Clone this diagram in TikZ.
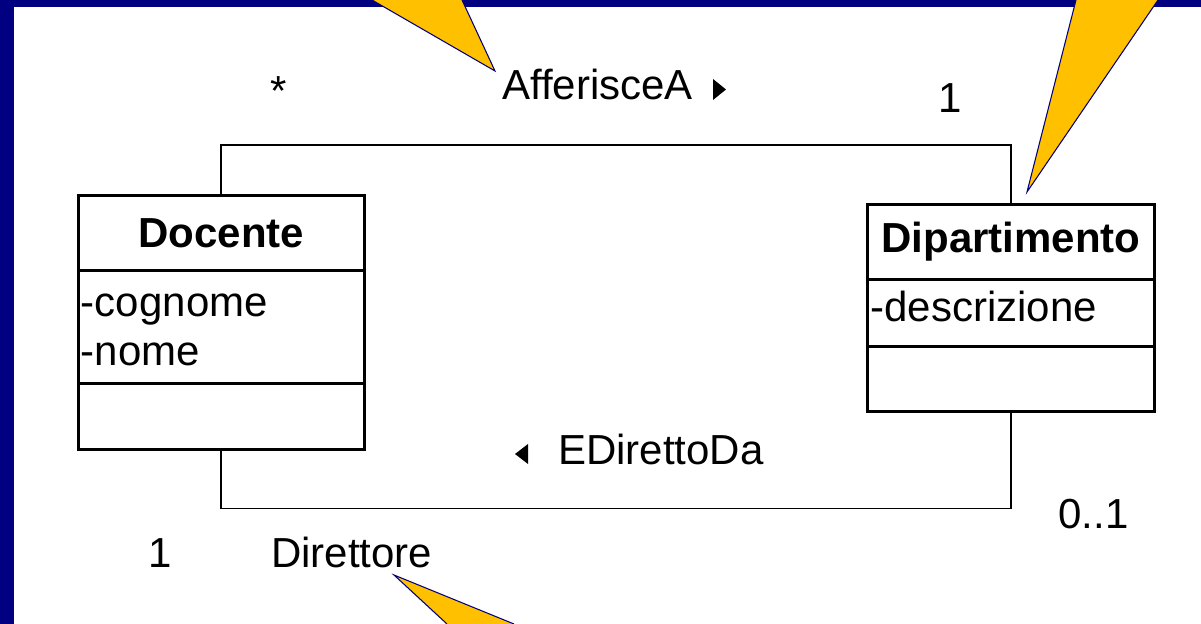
\documentclass[tikz,border=0pt]{standalone}
\usepackage{fontspec}
\setmainfont{Liberation Sans}
\usetikzlibrary{positioning}
\definecolor{slidenavy}{RGB}{0,0,128}
\definecolor{calloutyellow}{RGB}{255,192,0}
\tikzset{
  classbox/.style={draw, line width=1.7pt, outer sep=0pt, inner sep=0pt, minimum width=5.73cm},
  assoc/.style={line width=1.1pt},
  callout/.style={fill=calloutyellow, draw=slidenavy, line width=0.6pt},
  lbl/.style={inner sep=0pt, anchor=base west},
}
\begin{document}
\begin{tikzpicture}[x=0.02cm, y=-0.02cm, font=\fontsize{23.9}{28.5}\selectfont]
    \useasboundingbox (0,0) rectangle (1201,624);
    \fill[white] (0,0) rectangle (1201,624);
    \fill[slidenavy] (0,0) rectangle (1201,7.5);
    \fill[slidenavy] (0,0) rectangle (13.5,624);

    % Docente
    \node[classbox, minimum height=1.504cm] (docname) at (221.35,233.1) {\textbf{Docente}};
    \node[classbox, minimum height=2.266cm, below=0pt of docname] (docattr) {};
    \node[classbox, minimum height=1.304cm, below=0pt of docattr] (docops) {};
    \node[lbl] (cognome) at ([shift={(2.5,45.5)}]docattr.north west) {-cognome};
    \node[lbl] (nome) at ([shift={(2.5,95)}]docattr.north west) {-nome};

    % Dipartimento
    \node[classbox, minimum height=1.502cm] (dipname) at (1011,241.75) {\textbf{Dipartimento}};
    \node[classbox, minimum height=1.348cm, below=0pt of dipname] (dipattr) {};
    \node[classbox, minimum height=1.29cm, below=0pt of dipattr] (dipops) {};
    \node[lbl] (descrizione) at ([shift={(2.5,42.5)}]dipattr.north west) {-descrizione};

    \coordinate (topline) at (0,145);
    \coordinate (botline) at (0,508.5);
    \draw[assoc] (docname.north) -- (docname.north |- topline) -| (dipname.north);
    \draw[assoc] (docops.south) -- (docops.south |- botline) -| (dipops.south);

    \node[inner sep=0pt, anchor=base] (manydoc) at (279,106) {*};
    \node[lbl] (afferisce) at (502,100) {AfferisceA};
    \fill (713,79) -- (713,100) -- (726,89.5) -- cycle;
    \node[lbl] (onedip) at (938.5,113) {1};
    \fill (528,444) -- (528,464) -- (515,454) -- cycle;
    \node[lbl] (diretto) at (557.7,465) {EDirettoDa};
    \node[lbl] (optdip) at (1058,529) {0..1};
    \node[lbl] (onedoc) at (148.5,568) {1};
    \node[lbl] (direttore) at (270.7,568) {Direttore};

    % callouts
    \filldraw[callout] (372,0) -- (495,71) -- (462,0);
    \filldraw[callout] (1076,0) -- (1027,192) -- (1158,0);
    \filldraw[callout] (447,624) -- (394,575) -- (514,624);
\end{tikzpicture}
\end{document}
